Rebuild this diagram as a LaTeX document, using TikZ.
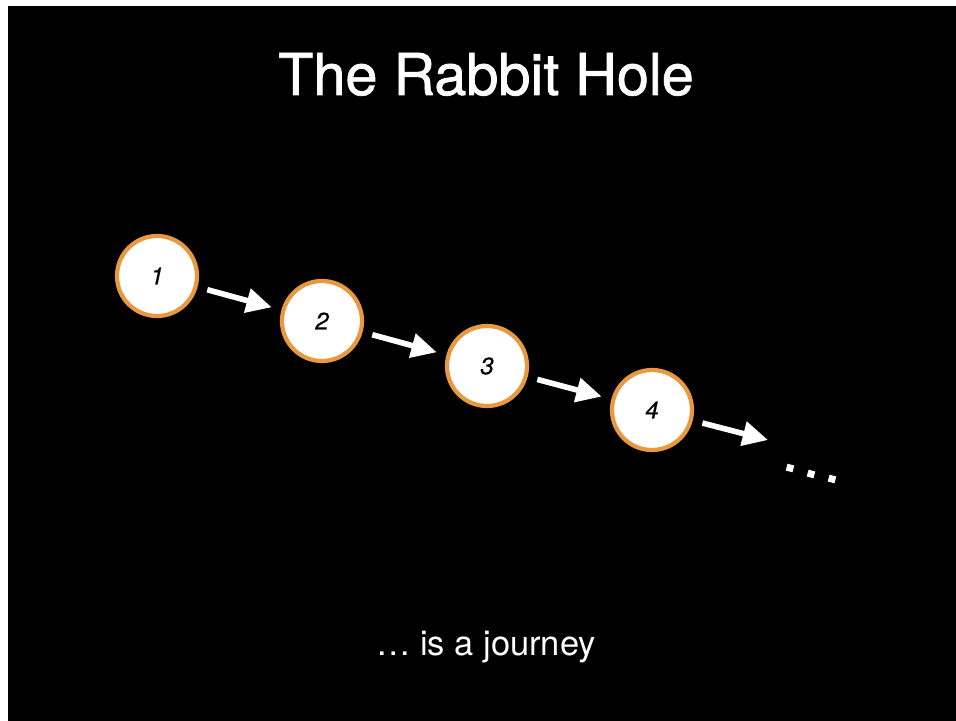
\documentclass[tikz,border=0pt]{standalone}
\usepackage{fontspec}
\setmainfont{TeX Gyre Heros}
\usepackage{tikz}
\usetikzlibrary{arrows.meta, positioning}
\definecolor{holeorange}{RGB}{232,152,62}
\definecolor{holeblack}{RGB}{0,0,0}

\begin{document}
\begin{tikzpicture}[
    x=0.025cm, y=-0.025cm,
    hop/.style={circle, draw=holeorange, line width=3pt, fill=white,
                minimum size=2cm, inner sep=0pt,
                font=\fontsize{17}{17}\selectfont\itshape\addfontfeature{FakeBold=0.6}},
    arr/.style={-{Triangle[length=18pt, width=17pt]}, line width=4pt, white,
                shorten >=0.25cm, shorten <=0.25cm},
]
    % Frame
    \fill[white] (0,0) rectangle (956,721);
    \fill[holeblack] (8,6) rectangle (956,721);
    \useasboundingbox (0,0) rectangle (956,721);

    % Title
    \node[anchor=base, text=white, font=\fontsize{41}{41}\selectfont\addfontfeature{FakeBold=1.2}] (title) at (486,95) {The Rabbit Hole};

    % Steps
    \node[hop] (s1) at (157,276) {1};
    \node[hop] (s2) at (322,321) {2};
    \node[hop] (s3) at (487,366) {3};
    \node[hop] (s4) at (652,410) {4};
    \coordinate (next) at (768,440);

    % Arrows
    \draw[arr] (s1) -- (s2);
    \draw[arr] (s2) -- (s3);
    \draw[arr] (s3) -- (s4);
    \draw[arr, shorten >=0pt] (s4) -- (next);

    % More to come
    \foreach \x/\y in {790/468, 811/474, 832/479}
        \fill[white, rotate around={-15:(\x,\y)}] (\x-3.5,\y-3.5) rectangle (\x+3.5,\y+3.5);

    % Caption
    \node[anchor=base, text=white, font=\fontsize{24.5}{24.5}\selectfont] (caption) at (486,655) {\dots\ is a journey};
\end{tikzpicture}
\end{document}
